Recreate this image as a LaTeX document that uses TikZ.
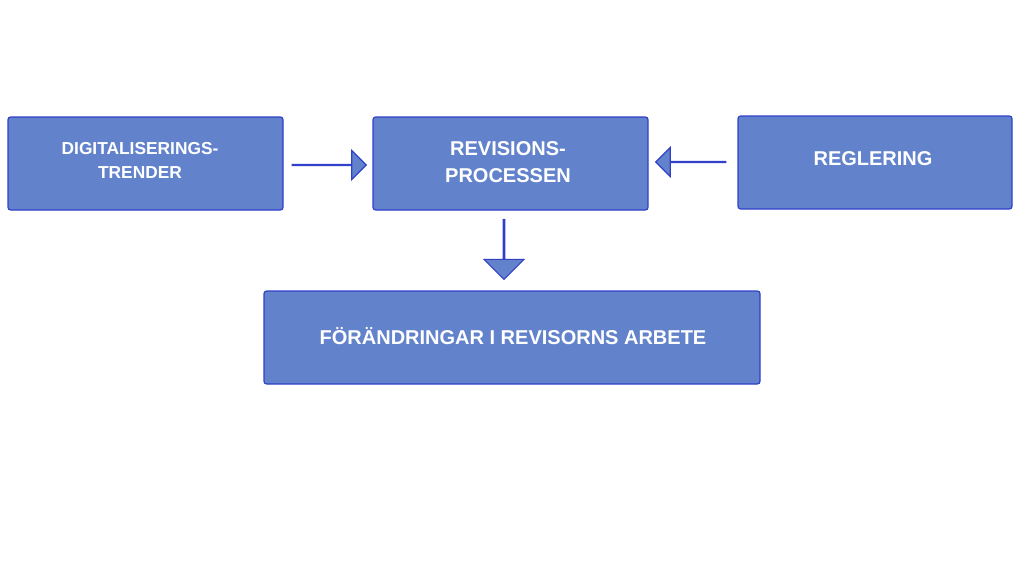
\documentclass[tikz,border=0pt]{standalone}
\usepackage{fontspec}
\setmainfont{Liberation Sans}
\usetikzlibrary{shapes.arrows}
\definecolor{boxfill}{HTML}{6283CC}
\definecolor{boxline}{HTML}{3040C8}
\begin{document}
\begin{tikzpicture}[x=0.75pt,y=-0.75pt,
  stepbox/.style={draw=boxline, fill=boxfill, line width=0.9pt, rounded corners=2pt,
    text=white, font=\bfseries\fontsize{15}{20}\selectfont, align=center, inner sep=0pt},
  blockarrow/.style={single arrow, draw=boxline, fill=boxfill, line width=0.9pt,
    single arrow head extend=0.75pt*14, inner sep=0pt}]

  \useasboundingbox (0,0) rectangle (1024,567);

  % boxes
  \node[stepbox, minimum width=275*0.75pt, minimum height=93*0.75pt] (trend) at (145.5,163.5) {};
  \node[text=white, font=\bfseries\fontsize{13}{18}\selectfont, align=center] (trendtxt) at (140,160) {DIGITALISERINGS-\\TRENDER};
  \node[stepbox, minimum width=275*0.75pt, minimum height=93*0.75pt] (process) at (510.5,163.5) {};
  \node[text=white, font=\bfseries\fontsize{15}{20}\selectfont, align=center] (processtxt) at (508,162) {REVISIONS-\\PROCESSEN};
  \node[stepbox, minimum width=274*0.75pt, minimum height=93*0.75pt] (rule) at (875,162.5) {};
  \node[text=white, font=\bfseries\fontsize{15}{20}\selectfont] (ruletxt) at (873,159) {REGLERING};
  \node[stepbox, minimum width=496*0.75pt, minimum height=93*0.75pt] (change) at (512,337.5) {};
  \node[text=white, font=\bfseries\fontsize{15}{20}\selectfont] (changetxt) at (513,336) {FÖRÄNDRINGAR I REVISORNS ARBETE};

  % block arrows
  \node[blockarrow, minimum width=28*0.75pt, minimum height=74*0.75pt] (inarrow) at (329,165) {};
  \node[blockarrow, shape border rotate=180, minimum width=28*0.75pt, minimum height=70*0.75pt] (backarrow) at (691,162) {};
  \node[blockarrow, shape border rotate=270, minimum width=40*0.75pt, minimum height=60*0.75pt, single arrow head extend=0.75pt*16] (downarrow) at (504,249) {};

\end{tikzpicture}
\end{document}
